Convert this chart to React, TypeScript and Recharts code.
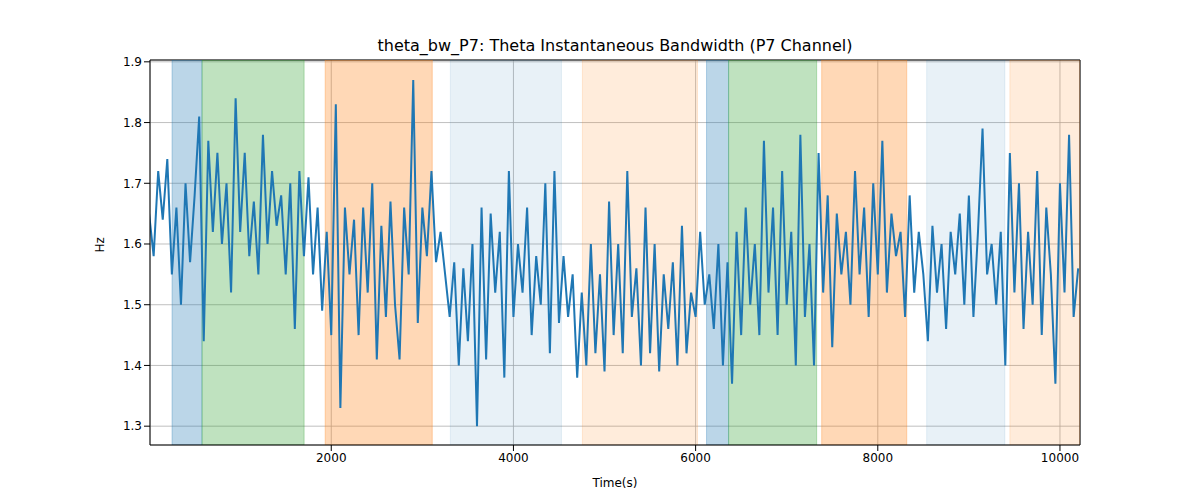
import React from "react";
import { ComposedChart, Line, XAxis, YAxis, CartesianGrid, ReferenceArea } from "recharts";

const values: number[] = [1.65,1.58,1.72,1.64,1.74,1.55,1.66,1.50,1.70,1.57,1.68,1.81,1.44,1.77,1.62,1.75,1.60,1.70,1.52,1.84,1.62,1.75,1.58,1.67,1.55,1.78,1.60,1.72,1.63,1.68,1.55,1.70,1.46,1.72,1.58,1.71,1.55,1.66,1.49,1.62,1.45,1.83,1.33,1.66,1.55,1.64,1.45,1.66,1.52,1.70,1.41,1.63,1.48,1.67,1.50,1.41,1.66,1.55,1.87,1.47,1.66,1.58,1.72,1.57,1.62,1.55,1.48,1.57,1.40,1.56,1.44,1.60,1.30,1.66,1.41,1.65,1.52,1.62,1.38,1.72,1.48,1.60,1.52,1.66,1.45,1.58,1.50,1.70,1.42,1.72,1.47,1.58,1.48,1.55,1.38,1.52,1.40,1.60,1.42,1.55,1.39,1.67,1.45,1.60,1.42,1.72,1.48,1.56,1.40,1.66,1.42,1.60,1.39,1.55,1.46,1.57,1.40,1.63,1.42,1.52,1.48,1.62,1.50,1.55,1.46,1.60,1.40,1.57,1.37,1.62,1.45,1.66,1.50,1.60,1.45,1.77,1.52,1.66,1.45,1.72,1.50,1.62,1.40,1.78,1.48,1.60,1.40,1.75,1.52,1.68,1.43,1.65,1.55,1.62,1.50,1.72,1.55,1.66,1.48,1.70,1.55,1.77,1.52,1.65,1.58,1.62,1.48,1.68,1.52,1.62,1.55,1.44,1.63,1.52,1.60,1.46,1.62,1.55,1.65,1.50,1.68,1.48,1.62,1.79,1.55,1.60,1.50,1.62,1.40,1.75,1.52,1.70,1.46,1.62,1.50,1.72,1.45,1.66,1.55,1.37,1.70,1.52,1.78,1.48,1.56];
const STEP = 50;
const data = values.map((v, i) => ({ t: i * STEP, v }));

const xTicks = [2000, 4000, 6000, 8000, 10000];
const yTicks = [1.3, 1.4, 1.5, 1.6, 1.7, 1.8, 1.9];

const regions: { x1: number; x2: number; color: string; op: number }[] = [
  { x1: 252, x2: 581, color: "#1f77b4", op: 0.3 },
  { x1: 581, x2: 1702, color: "#2ca02c", op: 0.3 },
  { x1: 1933, x2: 3109, color: "#ff7f0e", op: 0.3 },
  { x1: 3307, x2: 4527, color: "#1f77b4", op: 0.1 },
  { x1: 4757, x2: 6021, color: "#ff7f0e", op: 0.15 },
  { x1: 6120, x2: 6362, color: "#1f77b4", op: 0.3 },
  { x1: 6362, x2: 7329, color: "#2ca02c", op: 0.3 },
  { x1: 7384, x2: 8318, color: "#ff7f0e", op: 0.3 },
  { x1: 8537, x2: 9395, color: "#1f77b4", op: 0.1 },
  { x1: 9450, x2: 10220, color: "#ff7f0e", op: 0.15 },
];

export default function App() {
  return (
    <div style={{ position: "absolute", left: 0, top: 0, width: 1200, height: 500, background: "#fff", fontFamily: "DejaVu Sans" }}>
      <div style={{ position: "absolute", top: 36, width: 1230, textAlign: "center", fontSize: 16, color: "#000" }}>
        theta_bw_P7: Theta Instantaneous Bandwidth (P7 Channel)
      </div>
      <ComposedChart width={1200} height={500} data={data} margin={{ top: 60, right: 120, bottom: 25, left: 90 }}>
        {regions.map((r, i) => (
          <ReferenceArea key={i} x1={r.x1} x2={r.x2} fill={r.color} fillOpacity={r.op} stroke={r.color} strokeOpacity={r.op} ifOverflow="hidden" />
        ))}
        <CartesianGrid stroke="#b0b0b0" strokeWidth={0.8} />
        <XAxis dataKey="t" type="number" domain={[10, 10220]} ticks={xTicks} allowDataOverflow height={30}
          tick={{ fill: "#000", fontSize: 12 }} tickLine={{ stroke: "#000" }} axisLine={{ stroke: "#000" }}
          label={{ value: "Time(s)", position: "insideBottom", offset: -12, fill: "#000", fontSize: 12 }} />
        <YAxis type="number" domain={[1.269, 1.903]} ticks={yTicks} allowDataOverflow width={60}
          tickFormatter={(v: number) => v.toFixed(1)}
          tick={{ fill: "#000", fontSize: 12 }} tickLine={{ stroke: "#000" }} axisLine={{ stroke: "#000" }}
          label={{ value: "Hz", angle: -90, position: "insideLeft", offset: 10, fill: "#000", fontSize: 12 }} />
        <Line dataKey="v" type="linear" stroke="#1f77b4" strokeWidth={2} dot={false} isAnimationActive={false} />
        <line x1={1080} y1={60} x2={1080} y2={445} stroke="#000" />
        <line x1={150} y1={60} x2={1080} y2={60} stroke="#000" />
      </ComposedChart>
    </div>
  );
}
